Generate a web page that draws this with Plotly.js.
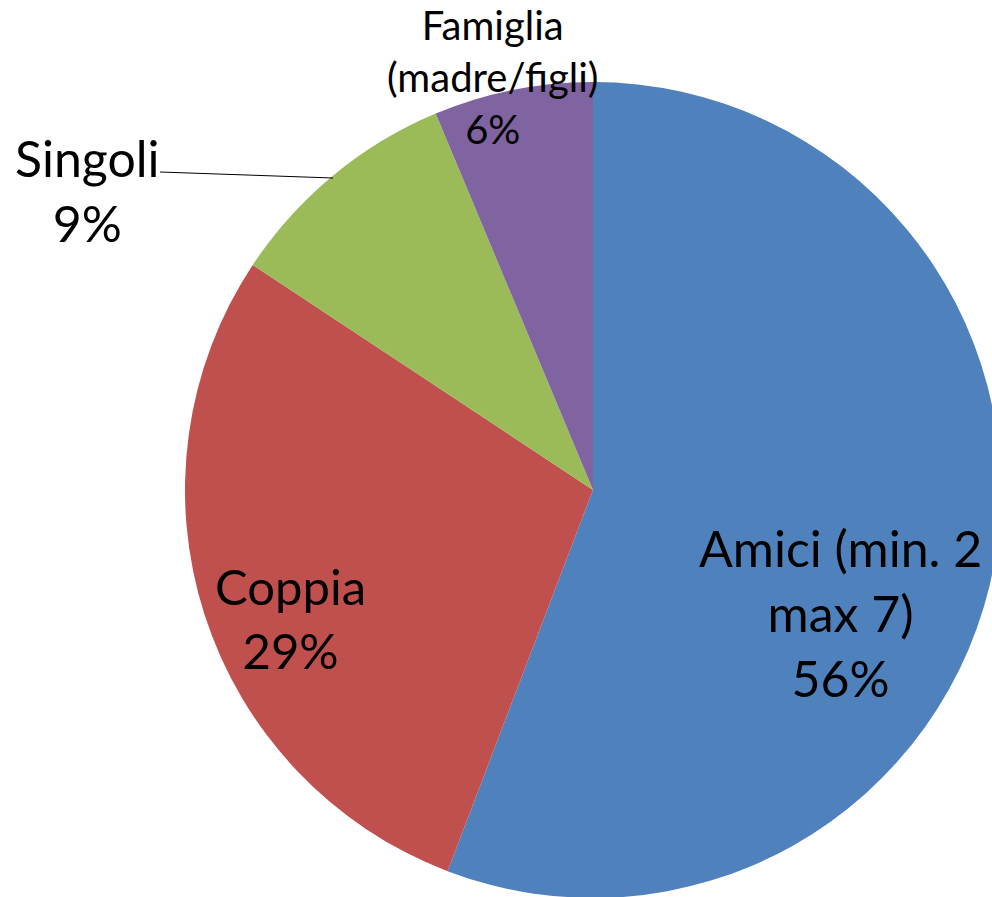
<!DOCTYPE html>
<html>
<head>
<meta charset="utf-8">
<script src="https://cdn.plot.ly/plotly-3.0.1.min.js"></script>
<style>
html, body { margin:0; padding:0; overflow:hidden; background:#fff; width:992px; height:897px; }
#chart { position:absolute; left:0; top:0; width:1010px; height:910px; }
</style>
</head>
<body>
<div id="chart"></div>
<script>
// Data
const categories = ["Amici (min. 2<br>max 7)", "Coppia", "Singoli", "Famiglia<br>(madre/figli)"];
const values = [55.8, 28.5, 9.4, 6.3];
const pctLabels = ["56%", "29%", "9%", "6%"];
const colors = ["#4F81BD", "#C0504D", "#9BBB59", "#8064A2"];

const W = 1010, H = 910;
const px = x => x / W;
const py = y => 1 - y / H;

const trace = {
  type: "pie",
  values: values,
  labels: categories,
  marker: { colors: colors, line: { width: 0 } },
  sort: false,
  direction: "clockwise",
  rotation: 0,
  textinfo: "none",
  hoverinfo: "none",
  showlegend: false,
  domain: { x: [px(185), px(1001)], y: [py(898), py(82)] }
};

const fontFam = "Lato, 'Open Sans', sans-serif";
// label positions [cx, cy, fontsize]
const labelPos = [
  [840, 613, 50],
  [290, 618, 49],
  [87, 190, 50],
  [493, 77, 40]
];

const annotations = categories.map((c, i) => ({
  xref: "paper", yref: "paper",
  x: px(labelPos[i][0]), y: py(labelPos[i][1]),
  xanchor: "center", yanchor: "middle",
  text: c + "<br>" + pctLabels[i],
  showarrow: false,
  align: "center",
  font: { family: fontFam, size: labelPos[i][2], color: "#000" }
}));

const layout = {
  width: W, height: H,
  margin: { l: 0, r: 0, t: 0, b: 0 },
  paper_bgcolor: "#fff",
  plot_bgcolor: "#fff",
  showlegend: false,
  annotations: annotations,
  shapes: [{
    type: "line", xref: "paper", yref: "paper",
    x0: px(160), y0: py(172), x1: px(333), y1: py(178),
    line: { color: "#000", width: 1 }
  }]
};

Plotly.newPlot("chart", [trace], layout, { staticPlot: true, displayModeBar: false });
</script>
</body>
</html>
